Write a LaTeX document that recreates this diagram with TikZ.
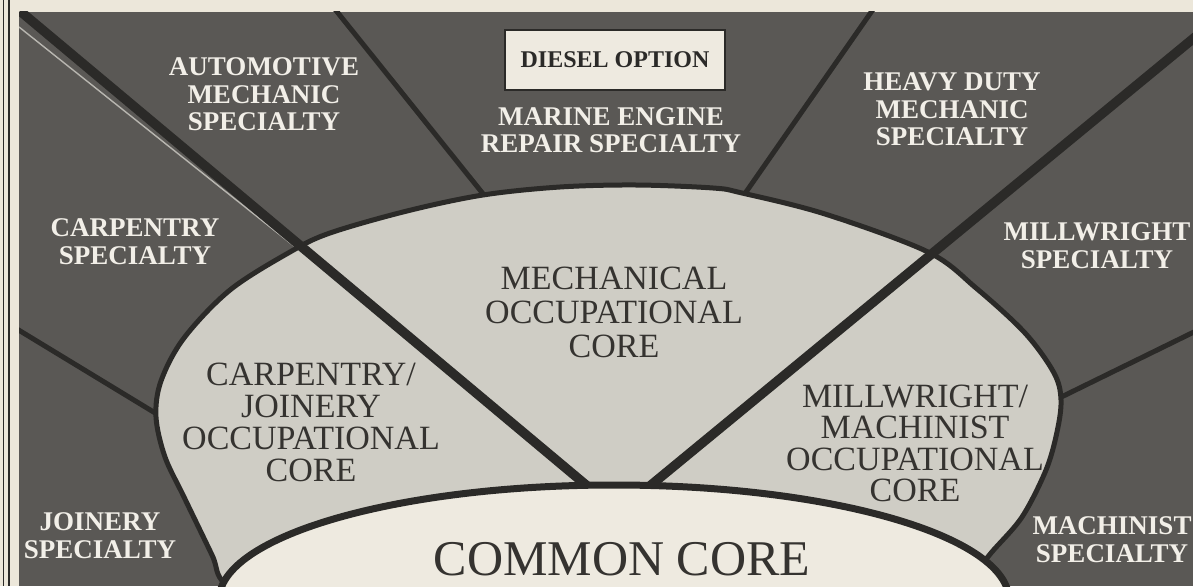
\documentclass[tikz,border=0pt]{standalone}
\usepackage{fontspec}
\setmainfont{Liberation Serif}
\definecolor{paper}{HTML}{ECE7DA}
\definecolor{darkfill}{HTML}{5A5855}
\definecolor{lightfill}{HTML}{CFCDC5}
\definecolor{corewhite}{HTML}{EEEAE0}
\definecolor{ink}{HTML}{2B2A28}
\definecolor{inkgray}{HTML}{353330}
\definecolor{specwhite}{HTML}{F2EFE8}
\definecolor{hairline}{HTML}{B8B6B0}
\begin{document}
\begin{tikzpicture}[x=1pt,y=-1pt,
  spec/.style={font=\fontsize{27}{27.5}\selectfont\bfseries, text=specwhite, align=center, inner sep=0pt},
  corelabel/.style={font=\fontsize{34}{32}\selectfont, text=inkgray, align=center, inner sep=0pt},
  heavyline/.style={line width=9.5pt, draw=ink},
  divider/.style={line width=5pt, draw=ink},
  optionbox/.style={draw=ink, line width=2.2pt, fill=corewhite, minimum width=220pt,
    minimum height=60pt, inner sep=0pt, font=\fontsize{24}{24}\selectfont\bfseries, text=ink},
]
% page and frame
\useasboundingbox (0,0) rectangle (1193,586);
\fill[paper] (0,0) rectangle (1193,586);
\draw[ink, line width=1.6pt] (3.5,0) -- (3.5,586);
\draw[ink, line width=1.6pt] (9,0) -- (9,586);

\begin{scope}
\clip (19,12) rectangle (1193,586);
% specialty ring
\fill[darkfill] (19,12) rectangle (1193,586);
% dividers between specialties
\draw[hairline, line width=1.4pt] (19,27) -- (294,246);
\draw[divider] (334,8) -- (492,205);
\draw[divider] (874,8) -- (737,205);
\draw[divider] (12,326) -- (170,422);
\draw[divider] (1045,405) -- (1200,329);
% occupational cores
\path[fill=lightfill, draw=ink, line width=5pt] plot[smooth cycle, tension=0.55] coordinates {
  (330,233) (407,211) (483,195) (560,187) (636,185) (713,188) (742,193)
  (825,214) (928,252) (976,288) (1025,333) (1054,373) (1061,400) (1057,432)
  (1046,470) (1022,517) (991,553) (970,580) (930,630) (290,630) (226,585)
  (212,555) (184,497) (165,457) (156,417) (161,381) (184,338) (230,290) (290,252)};
% core separators
\draw[heavyline] (20,11) -- (592,490);
\draw[heavyline] (645,490) -- (1200,33);
% common core
\path[fill=corewhite, draw=ink, line width=7pt] (614,600) ellipse [x radius=395pt, y radius=115pt];

% specialty labels
\node[spec] (automotive) at (264,94.5) {AUTOMOTIVE\\MECHANIC\\SPECIALTY};
\node[spec] (marine) at (611,130) {MARINE ENGINE\\REPAIR SPECIALTY};
\node[spec] (heavyduty) at (952,109.5) {HEAVY DUTY\\MECHANIC\\SPECIALTY};
\node[spec] (carpentry) at (135,241.5) {CARPENTRY\\SPECIALTY};
\node[spec] (millwright) at (1097,245.5) {MILLWRIGHT\\SPECIALTY};
\node[spec] (joinery) at (100,535.5) {JOINERY\\SPECIALTY};
\node[spec] (machinist) at (1112,539.5) {MACHINIST\\SPECIALTY};
\node[optionbox] (diesel) at (615,60) {DIESEL OPTION};

% core labels
\node[corelabel, font=\fontsize{34}{34}\selectfont] (mechcore) at (614,312.5) {MECHANICAL\\OCCUPATIONAL\\CORE};
\node[corelabel] (carpcore) at (311,422.5) {CARPENTRY/\\JOINERY\\OCCUPATIONAL\\CORE};
\node[corelabel, font=\fontsize{34}{31.5}\selectfont] (millcore) at (915,443.5) {MILLWRIGHT/\\MACHINIST\\OCCUPATIONAL\\CORE};
\node[inner sep=0pt, font=\fontsize{50}{50}\selectfont, text=inkgray] (common) at (622,559) {COMMON CORE};
\end{scope}
\end{tikzpicture}
\end{document}
